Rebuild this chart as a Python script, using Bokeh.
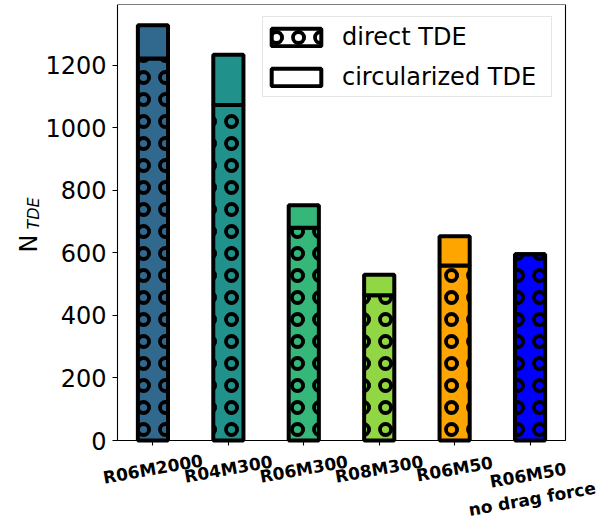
import math

from bokeh.plotting import figure
from bokeh.core.properties import value
from bokeh.models import (ColumnDataSource, FixedTicker, Range1d, Label, LinearAxis,
                          BoxAnnotation, Legend, LegendItem)
from bokeh.embed import file_html
from bokeh.resources import INLINE

# Simulation runs and the number of tidal disruption events in each
runs = ["R06M2000", "R04M300", "R06M300", "R08M300", "R06M50", "R06M50\nno drag force"]
direct_tde = [1221, 1072, 680, 464, 559, 595]
circularized_tde = [106, 161, 72, 66, 94, 0]
bar_colors = ["#31688e", "#21918c", "#35b779", "#90d743", "#ffa500", "#0000ff"]
y_ticks = [0, 200, 400, 600, 800, 1000, 1200]

positions = list(range(len(runs)))
totals = [d + c for d, c in zip(direct_tde, circularized_tde)]

# Layout (pixels). The drawing area covers the whole page so that the
# rotated run names and the axis title are never clipped; the data box
# (spines) sits inside it.
W, H = 601, 522
EDGE = 7                                  # thin panel for the tick-only y axis
BOX_L, BOX_R, BOX_T, BOX_B = 117, 565, 4, 440
BOX_W, BOX_H = BOX_R - BOX_L, BOX_B - BOX_T

BAR_W = 0.4
x_lo = -BAR_W / 2 - 0.27
x_hi = positions[-1] + BAR_W / 2 + 0.27
y_hi = max(totals) * 1.05
px_x = (x_hi - x_lo) / BOX_W
px_y = y_hi / BOX_H

FONT = "DejaVu Sans"

p = figure(width=W, height=H, output_backend="svg", toolbar_location=None,
           x_axis_location=None, y_axis_location=None,
           x_range=Range1d(x_lo - (BOX_L - EDGE) * px_x, x_hi + (W - BOX_R) * px_x),
           y_range=Range1d(-(H - BOX_B) * px_y, y_hi),
           min_border_left=EDGE, min_border_right=0,
           min_border_top=BOX_T, min_border_bottom=0)
p.background_fill_color = "white"
p.border_fill_color = "white"
p.outline_line_color = None
p.xgrid.visible = False
p.ygrid.visible = False

src = ColumnDataSource(dict(x=positions, direct=direct_tde, total=totals,
                            color=bar_colors))

hatch = dict(hatch_pattern="ring", hatch_color="black", hatch_weight=3.8,
             hatch_scale=22)
edge = dict(line_color="black", line_width=4)

# direct TDEs (hatched) at the bottom, circularized TDEs stacked on top
p.vbar(x="x", width=BAR_W, bottom=0, top="direct", source=src,
       fill_color="color", **edge, **hatch)
p.vbar(x="x", width=BAR_W, bottom="direct", top="total", source=src,
       fill_color="color", **edge)

# spines around the data area
p.add_layout(BoxAnnotation(left=x_lo, right=x_hi, bottom=0, top=y_hi,
                           fill_color=None, fill_alpha=0,
                           line_color="black", line_alpha=1, line_width=1.1))

# tick marks: axes pinned to the data box edges
yax = LinearAxis(fixed_location=x_lo, ticker=FixedTicker(ticks=y_ticks))
xax = LinearAxis(fixed_location=0, ticker=FixedTicker(ticks=positions))
for ax in (yax, xax):
    ax.axis_line_color = None
    ax.major_tick_line_color = "black"
    ax.major_tick_line_width = 1.1
    ax.minor_tick_line_color = None
    ax.major_label_text_font_size = "1px"
    ax.major_label_standoff = 0
yax.major_tick_out, yax.major_tick_in = 5, 0
yax.major_label_overrides = {t: "" for t in y_ticks}
xax.major_tick_out, xax.major_tick_in = 0, 5
xax.major_label_overrides = {t: "" for t in positions}
p.add_layout(yax, "left")
p.add_layout(xax, "above")

# y tick labels
ytick_src = ColumnDataSource(dict(x=[x_lo - 11 * px_x] * len(y_ticks), y=y_ticks,
                                  text=[str(t) for t in y_ticks]))
p.text(x="x", y="y", text="text", source=ytick_src, text_align="right",
       text_baseline="middle", text_font=value(FONT), text_font_size="24px",
       text_color="black")

# rotated run names under the bars
name_src = ColumnDataSource(dict(
    x=positions, text=runs,
    y=[-(28.5 + 18 * r.count("\n")) * px_y for r in runs]))
p.text(x="x", y="y", text="text", source=name_src,
       angle=math.radians(10), text_align="center", text_baseline="middle",
       text_font=value(FONT), text_font_style="bold", text_font_size="17px",
       text_color="black")

# y-axis title N_TDE, built from two rotated labels
p.add_layout(Label(x=x_lo - 89 * px_x, y=188 * px_y, text="N",
                   angle=math.pi / 2, text_align="left",
                   text_baseline="alphabetic", text_font=FONT,
                   text_font_size="24px", text_color="black"))
p.add_layout(Label(x=x_lo - 84 * px_x, y=211 * px_y, text="TDE",
                   angle=math.pi / 2, text_align="left",
                   text_baseline="alphabetic", text_font=FONT,
                   text_font_style="italic", text_font_size="16px",
                   text_color="black"))

# legend swatches: white versions of the two bar styles, hidden in the plot
leg_direct = p.vbar(x="x", width=BAR_W, bottom=0, top="direct", source=src,
                    fill_color="white", visible=False, **edge, **hatch)
leg_circ = p.vbar(x="x", width=BAR_W, bottom="direct", top="total", source=src,
                  fill_color="white", visible=False, **edge)

legend = Legend(items=[LegendItem(label="direct TDE", renderers=[leg_direct]),
                       LegendItem(label="circularized TDE", renderers=[leg_circ])],
                location=(262 - EDGE, H - 97), padding=2, spacing=5,
                glyph_width=62, glyph_height=22, label_height=35,
                label_width=207, label_standoff=15,
                label_text_font=FONT, label_text_font_size="24px",
                label_text_color="black",
                inactive_fill_alpha=0,
                border_line_color="#cccccc", border_line_width=1,
                background_fill_color="white", background_fill_alpha=1)
p.add_layout(legend)

open("out.html", "w").write(file_html(p, INLINE))
